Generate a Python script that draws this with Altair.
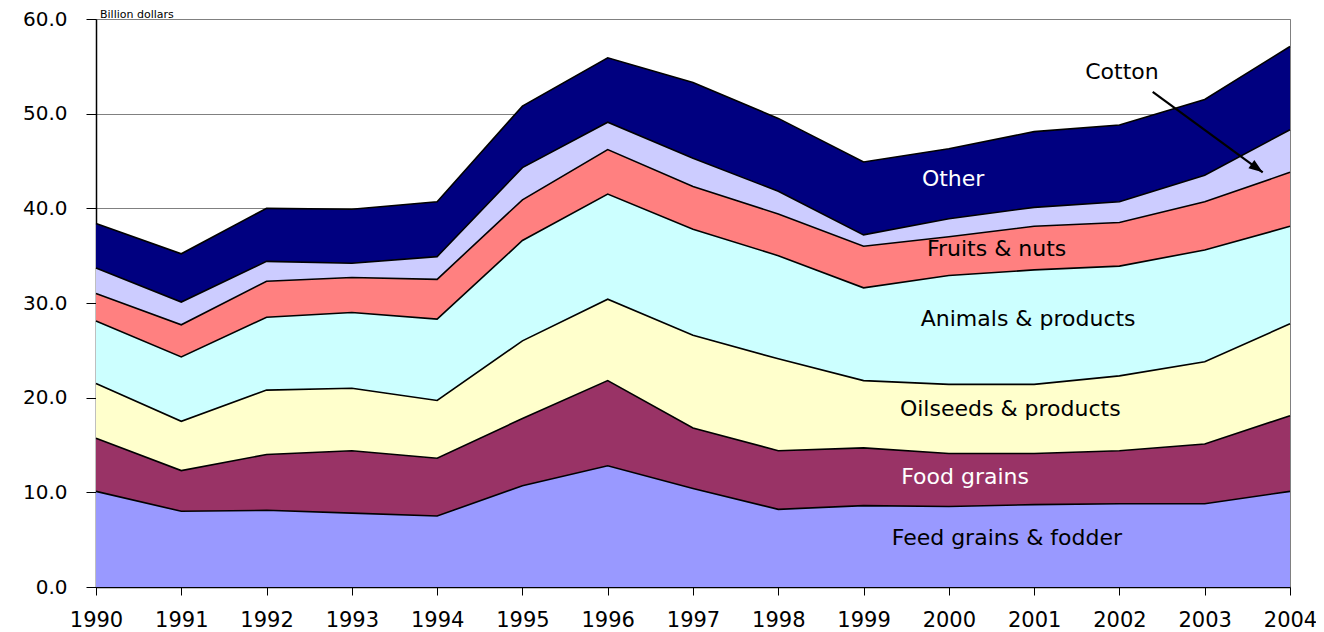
import altair as alt
import pandas as pd

years = list(range(1990, 2005))
series_names = ["Feed grains & fodder", "Food grains", "Oilseeds & products",
                "Animals & products", "Fruits & nuts", "Cotton", "Other"]
series_colors = ["#9999FF", "#993366", "#FFFFCC", "#CCFFFF", "#FF8080", "#CCCCFF", "#000080"]

feed = [10.1, 8.0, 8.1, 7.8, 7.5, 10.7, 12.8, 10.4, 8.2, 8.6, 8.5, 8.7, 8.8, 8.8, 10.1]
food = [5.6, 4.3, 5.9, 6.6, 6.1, 7.1, 9.0, 6.4, 6.2, 6.1, 5.6, 5.4, 5.6, 6.3, 8.0]
oilseeds = [5.8, 5.2, 6.8, 6.6, 6.1, 8.2, 8.6, 9.8, 9.7, 7.1, 7.3, 7.3, 7.9, 8.7, 9.7]
animals = [6.6, 6.8, 7.7, 8.0, 8.6, 10.6, 11.1, 11.2, 10.9, 9.8, 11.5, 12.1, 11.6, 11.8, 10.3]
fruits = [2.9, 3.4, 3.8, 3.7, 4.2, 4.3, 4.7, 4.5, 4.4, 4.4, 4.1, 4.6, 4.6, 5.1, 5.7]
cotton = [2.7, 2.4, 2.1, 1.5, 2.4, 3.4, 2.9, 3.0, 2.4, 1.2, 1.9, 2.0, 2.2, 2.8, 4.5]
other = [4.7, 5.1, 5.6, 5.7, 5.8, 6.5, 6.8, 8.0, 7.7, 7.7, 7.4, 8.0, 8.1, 8.0, 8.8]

y_ticks = [0, 10, 20, 30, 40, 50, 60]

# annotation labels (data coordinates)
label_text = ["Other", "Fruits & nuts", "Animals & products", "Oilseeds & products",
              "Food grains", "Feed grains & fodder", "Cotton"]
label_x = [2000.05, 2000.56, 2000.93, 2000.72, 2000.19, 2000.68, 2002.03]
label_y = [43.15, 35.7, 28.3, 18.8, 11.6, 5.2, 54.4]
label_color = ["white", "black", "black", "black", "white", "black", "black"]

arrow_start = (2002.39, 52.3)
arrow_end = (2003.68, 43.8)

# ---- build tables ----
all_series = [feed, food, oilseeds, animals, fruits, cotton, other]
rows = []
base = [0.0] * len(years)
for name, vals in zip(series_names, all_series):
    for i, yr in enumerate(years):
        rows.append({"year": yr, "series": name, "y0": base[i], "y1": base[i] + vals[i]})
    base = [b + v for b, v in zip(base, vals)]
df = pd.DataFrame(rows)

labels_df = pd.DataFrame({"text": label_text, "x": label_x, "y": label_y, "c": label_color})
arrow_df = pd.DataFrame({"x": [arrow_start[0]], "y": [arrow_start[1]],
                         "x2": [arrow_end[0]], "y2": [arrow_end[1]]})
head_df = pd.DataFrame({"x": [arrow_end[0]], "y": [arrow_end[1]]})

FONT = "DejaVu Sans"

xscale = alt.Scale(domain=[1990, 2004], nice=False, zero=False)
yscale = alt.Scale(domain=[0, 60], nice=False)

x_enc = alt.X("year:Q", scale=xscale,
              axis=alt.Axis(values=years, format="d", grid=False, title=None,
                            domainColor="black", domainWidth=1.5,
                            tickColor="black", tickSize=8, tickWidth=1,
                            labelFont=FONT, labelFontSize=21, labelColor="black",
                            labelPadding=14, labelFlush=False, labelOverlap=False))
y_enc = alt.Y("y1:Q", scale=yscale,
              axis=alt.Axis(values=y_ticks, format=".1f", grid=True, title=None,
                            gridColor="#808080", gridWidth=1,
                            domainColor="black", domainWidth=1.5,
                            tickColor="black", tickSize=10, tickWidth=1,
                            labelFont=FONT, labelFontSize=20, labelColor="black",
                            labelPadding=19))

areas = alt.Chart(df).mark_area(opacity=1, interpolate="linear").encode(
    x=x_enc,
    y=y_enc,
    y2="y0:Q",
    color=alt.Color("series:N", scale=alt.Scale(domain=series_names, range=series_colors),
                    legend=None),
)

lines = alt.Chart(df).mark_line(color="black", strokeWidth=1.6).encode(
    x=alt.X("year:Q", scale=xscale),
    y=alt.Y("y1:Q", scale=yscale),
    detail="series:N",
)

labels = alt.Chart(labels_df).mark_text(font=FONT, fontSize=22, align="center",
                                         baseline="middle").encode(
    x=alt.X("x:Q", scale=xscale),
    y=alt.Y("y:Q", scale=yscale),
    text="text:N",
    color=alt.Color("c:N", scale=None),
)

arrow = alt.Chart(arrow_df).mark_rule(color="black", strokeWidth=2.2).encode(
    x=alt.X("x:Q", scale=xscale),
    y=alt.Y("y:Q", scale=yscale),
    x2="x2:Q",
    y2="y2:Q",
)

head = alt.Chart(head_df).mark_point(shape="M0,0L0.5,1.4L-0.5,1.4Z", filled=True,
                                     color="black", opacity=1, size=400,
                                     angle=126).encode(
    x=alt.X("x:Q", scale=xscale),
    y=alt.Y("y:Q", scale=yscale),
)

ytitle = alt.Chart(labels_df.head(1)).mark_text(
    text="Billion dollars", font=FONT, fontSize=11, align="left",
    baseline="alphabetic", color="black").encode(
    x=alt.value(4), y=alt.value(-1))

chart = alt.layer(areas, lines, labels, arrow, head, ytitle).properties(
    width=1194, height=568,
    autosize=alt.AutoSizeParams(type="none"),
    padding={"left": 88, "top": 11, "right": 26, "bottom": 43},
    background="white",
).configure_view(stroke="#808080", strokeWidth=1)

chart.save("out.html", embed_options={"renderer": "svg", "actions": False})
